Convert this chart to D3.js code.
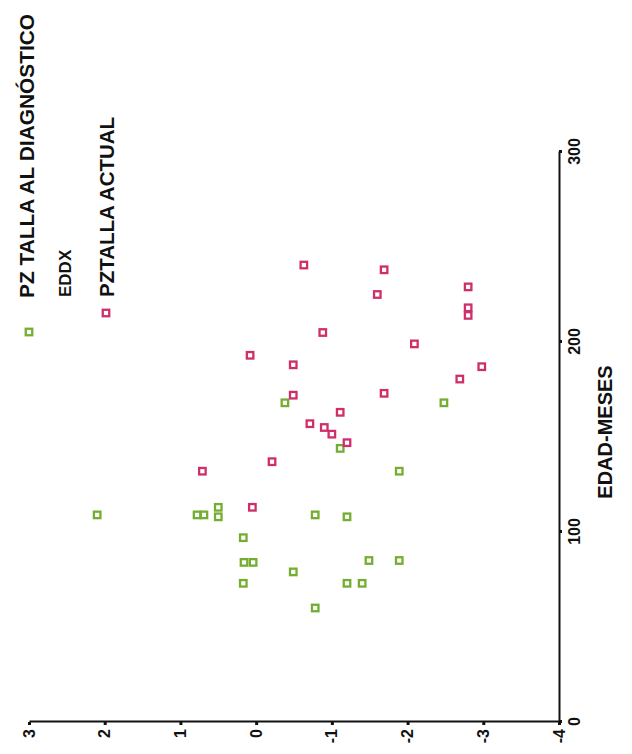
<!DOCTYPE html>
<html>
<head>
<meta charset="utf-8">
<script src="https://cdn.jsdelivr.net/npm/d3@7"></script>
<style>
  body { margin: 0; background: #fff; }
  text { font-family: "Liberation Sans", Arial, sans-serif; font-weight: bold; fill: #111; }
</style>
</head>
<body>
<svg id="chart"></svg>
<script>
// edad en meses / puntaje z de talla
const diagAge = [109, 109, 109, 113, 108, 97, 84, 84, 73, 79, 109, 60, 168, 168, 144, 132, 108, 85, 85, 73, 73];
const diagZ = [2.10, 0.78, 0.69, 0.50, 0.50, 0.17, 0.16, 0.04, 0.17, -0.49, -0.78, -0.78, -0.38, -2.48, -1.11, -1.89, -1.20, -1.49, -1.89, -1.20, -1.40];

const actualAge = [240.5, 238, 229, 225, 218, 214, 205, 199, 187, 180.5, 173, 163, 157, 155, 151.5, 147, 193, 188, 172, 137, 132, 113];
const actualZ = [-0.63, -1.69, -2.80, -1.60, -2.80, -2.80, -0.88, -2.09, -2.98, -2.69, -1.69, -1.11, -0.71, -0.90, -1.00, -1.20, 0.08, -0.49, -0.49, -0.21, 0.71, 0.05];

const ageTicks = [0, 100, 200, 300];
const zTicks = [3, 2, 1, 0, -1, -2, -3, -4];

const W = 632, H = 754;
const green = '#74ae30';
const red = '#cf2f69';

const svg = d3.select('#chart').attr('width', W).attr('height', H);
svg.append('rect').attr('width', W).attr('height', H).attr('fill', '#fff');

// the scan is turned a quarter to the left, so draw normally and rotate
const g = svg.append('g').attr('transform', `translate(0,${H}) rotate(-90)`);

const x = d3.scaleLinear().domain([0, 300]).range([32, 602]);
const y = d3.scaleLinear().domain([-4, 3]).range([559, 29]);

const xAxis = g.append('g')
  .attr('transform', `translate(0,${y(-4)})`)
  .call(d3.axisBottom(x).tickValues(ageTicks).tickSize(3).tickSizeOuter(0).tickPadding(7));

const yAxis = g.append('g')
  .attr('transform', `translate(${x(0)},0)`)
  .call(d3.axisLeft(y).tickValues(zTicks).tickFormat(d => String(d)).tickSize(3).tickSizeOuter(0).tickPadding(4));

[xAxis, yAxis].forEach(a => {
  a.select('.domain').attr('stroke', '#111').attr('stroke-width', 2);
  a.selectAll('.tick line').attr('stroke', '#111').attr('stroke-width', 3);
  a.selectAll('.tick text').style('font-size', '16px').style('font-family', '"Liberation Sans", Arial, sans-serif').style('font-weight', 'bold');
});

g.append('text')
  .attr('x', (x(0) + x(300)) / 2 + 5)
  .attr('y', 612)
  .attr('text-anchor', 'middle')
  .style('font-size', '20px')
  .text('EDAD-MESES');

const drawSeries = (ages, zs, color) => {
  g.selectAll(null)
    .data(ages.map((a, i) => ({ age: a, z: zs[i] })))
    .enter()
    .append('rect')
    .attr('x', d => x(d.age) - 3.25)
    .attr('y', d => y(d.z) - 3.25)
    .attr('width', 6.5)
    .attr('height', 6.5)
    .attr('fill', 'none')
    .attr('stroke', color)
    .attr('stroke-width', 2.3);
};

drawSeries(diagAge, diagZ, green);
drawSeries(actualAge, actualZ, red);

// legend
const legend = g.append('g');
legend.append('rect').attr('x', 418.75).attr('y', 25.75).attr('width', 6.5).attr('height', 6.5)
  .attr('fill', 'none').attr('stroke', green).attr('stroke-width', 2.3);
legend.append('text').attr('x', 456).attr('y', 34)
  .attr('textLength', 284).attr('lengthAdjust', 'spacingAndGlyphs')
  .style('font-size', '20px').text('PZ TALLA AL DIAGNÓSTICO');
legend.append('text').attr('x', 457).attr('y', 71)
  .style('font-size', '17px').text('EDDX');
legend.append('rect').attr('x', 437.75).attr('y', 102.75).attr('width', 6.5).attr('height', 6.5)
  .attr('fill', 'none').attr('stroke', red).attr('stroke-width', 2.3);
legend.append('text').attr('x', 457).attr('y', 114)
  .attr('textLength', 180).attr('lengthAdjust', 'spacingAndGlyphs')
  .style('font-size', '20px').text('PZTALLA ACTUAL');
</script>
</body>
</html>
